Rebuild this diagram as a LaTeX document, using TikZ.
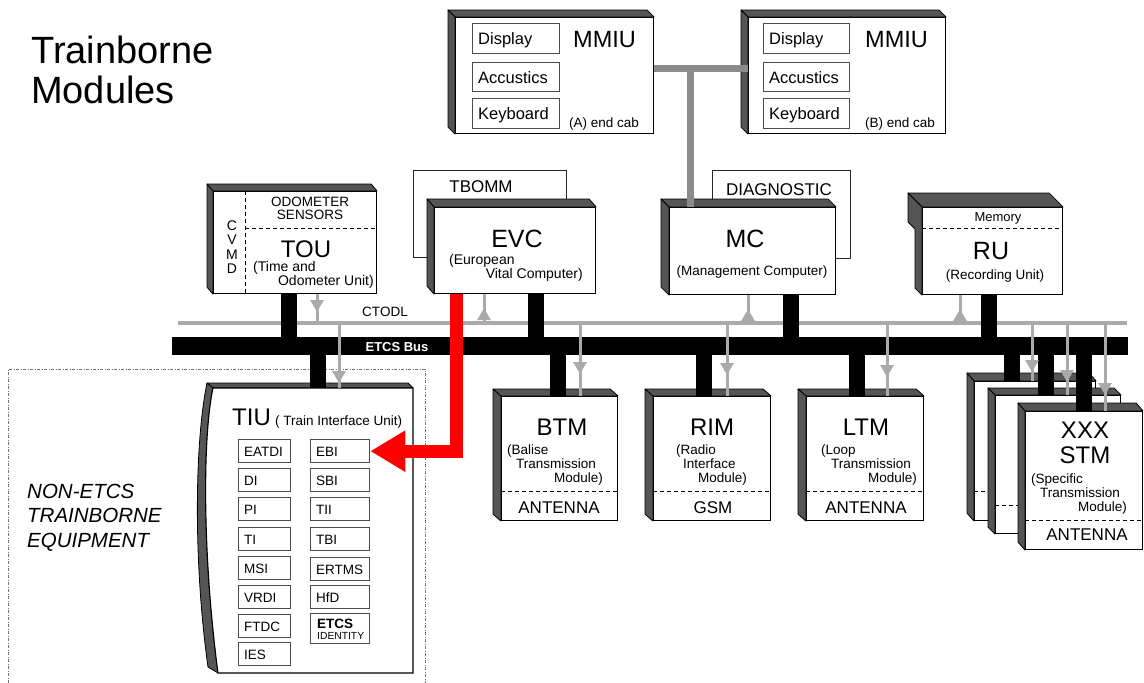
\documentclass[tikz,border=0pt]{standalone}
\usepackage{fontspec}
\setmainfont{Liberation Sans}
\usetikzlibrary{arrows.meta,calc,decorations.markings}
\definecolor{lgray}{HTML}{AAAAAA}
\definecolor{mgray}{HTML}{8C8C8C}
\definecolor{sgray}{HTML}{555555}
\definecolor{ered}{HTML}{FF0000}
\newcommand\fsz[1]{\fontsize{#1pt}{#1pt}\selectfont}
\newcommand\shad[3]{%
  \filldraw[shadthree] (#1.north west) -- ++(-#2,-#3) -- ($(#1.north east)+(-#2,-#3)$) -- (#1.north east) -- cycle;
  \filldraw[shadthree] (#1.north west) -- ++(-#2,-#3) -- ($(#1.south west)+(-#2,-#3)$) -- (#1.south west) -- cycle;}
\newcommand\ibx[7]{%
  \node[ibox, minimum width=#4pt, minimum height=#5pt] (#1) at (#2,#3) {};
  \node[inner sep=0pt, anchor=base west, font=\fsz{#7}] (#1t) at ([xshift=6pt,yshift=-0.36*#7pt]#1.west) {#6};}
\begin{document}
\begin{tikzpicture}[x=1pt,y=-1pt,
  face/.style={draw=black, fill=white, line width=1.1pt, inner sep=0pt, anchor=north west},
  shadthree/.style={draw=black, fill=sgray, line width=0.8pt, line join=round},
  plainbox/.style={draw=black!85, fill=white, line width=1pt, inner sep=0pt, anchor=north west},
  ibox/.style={draw=black!70, fill=white, line width=1.3pt, inner sep=0pt, anchor=north west},
  tx/.style={inner sep=0pt, anchor=base},
  txw/.style={inner sep=0pt, anchor=base west},
  txe/.style={inner sep=0pt, anchor=base east},
  blk/.style={line width=16pt, draw=black},
  glink/.style={line width=3pt, draw=lgray},
  garr/.style={glink, postaction={decorate}, decoration={markings, mark=at position #1 with {\arrow{Triangle[width=13pt,length=12pt,color=lgray]}}}},
  dsh/.style={line width=0.9pt, dash pattern=on 4pt off 3pt},
]
\useasboundingbox (0,0) rectangle (1144,683);

% title
\node[txw, font=\fsz{38}] (title1) at (31,63) {Trainborne};
\node[txw, font=\fsz{38}] (title2) at (31,103) {Modules};

% MMIU A
\node[face, minimum width=198pt, minimum height=116pt] (mmiuA) at (455,17) {};
\shad{mmiuA}{7}{7}
\ibx{dispA}{472}{23}{87}{30}{Display}{16.5}
\ibx{accA}{472}{62}{87}{29}{Accustics}{16.5}
\ibx{keyA}{472}{98}{87}{30}{Keyboard}{16.5}
\node[txw, font=\fsz{23.5}] (mmiuAt) at (573,47) {MMIU};
\node[txw, font=\fsz{13.5}] (cabA) at (569,127) {(A) end cab};

% MMIU B
\node[face, minimum width=197pt, minimum height=116pt] (mmiuB) at (748,17) {};
\shad{mmiuB}{7}{7}
\ibx{dispB}{763}{23}{86}{30}{Display}{16.5}
\ibx{accB}{763}{62}{86}{29}{Accustics}{16.5}
\ibx{keyB}{763}{98}{86}{30}{Keyboard}{16.5}
\node[txw, font=\fsz{23.5}] (mmiuBt) at (865,47) {MMIU};
\node[txw, font=\fsz{13.5}] (cabB) at (865,127) {(B) end cab};

% TOU
\node[face, minimum width=163pt, minimum height=102pt] (tou) at (213,191) {};
\shad{tou}{6}{7}
\coordinate (touD1) at ([xshift=32pt]tou.north west);
\draw[dsh] (touD1) -- (touD1 |- tou.south);
\coordinate (touD2) at ([xshift=32pt,yshift=-37pt]tou.north west);
\draw[dsh] (touD2) -- (touD2 -| tou.east);
\node[tx, font=\fsz{13.5}] (odo1) at (310,206) {ODOMETER};
\node[tx, font=\fsz{13.5}] (odo2) at (310,219) {SENSORS};
\node[tx, font=\fsz{14}] (cv1) at (232,230) {C};
\node[tx, font=\fsz{14}] (cv2) at (232,244.5) {V};
\node[tx, font=\fsz{14}] (cv3) at (232,259) {M};
\node[tx, font=\fsz{14}] (cv4) at (232,273.5) {D};
\node[tx, font=\fsz{24}] (touT) at (306,257) {TOU};
\node[txw, font=\fsz{14}] (touS1) at (253,271) {(Time and};
\node[txe, font=\fsz{14}] (touS2) at (374,285) {Odometer Unit)};

% TBOMM + EVC
\node[plainbox, minimum width=153pt, minimum height=87pt] (tbomm) at (413,170) {};
\node[tx, font=\fsz{17}] (tbommT) at (481,192) {TBOMM};
\node[face, minimum width=161pt, minimum height=86pt] (evc) at (434,207) {};
\shad{evc}{7}{8}
\node[tx, font=\fsz{25}] (evcT) at (517,247) {EVC};
\node[txw, font=\fsz{14}] (evcS1) at (449,264) {(European};
\node[txe, font=\fsz{14}] (evcS2) at (583,278) {Vital Computer)};

% DIAGNOSTIC + MC
\node[plainbox, minimum width=138pt, minimum height=88pt] (diag) at (712,170) {};
\node[tx, font=\fsz{17}] (diagT) at (779,195) {DIAGNOSTIC};
\node[face, minimum width=166pt, minimum height=87pt] (mc) at (669,207) {};
\shad{mc}{8}{8}
\node[tx, font=\fsz{25}] (mcT) at (745,247) {MC};
\node[tx, font=\fsz{13.5}] (mcS) at (752,275) {(Management Computer)};

% RU
\node[face, minimum width=140pt, minimum height=87pt] (ru) at (922,207) {};
\filldraw[shadthree] (ru.north west) -- ++(-14,-14) -- ($(ru.north east)+(-14,-14)$) -- (ru.north east) -- cycle;
\filldraw[shadthree] (ru.north west) -- ++(-14,-14) -- ++(0,29) -- ++(7,7) -- ($(ru.south west)+(-7,-7)$) -- (ru.south west) -- cycle;
\coordinate (ruD) at ([yshift=-21pt]ru.north west);
\draw[dsh] (ruD) -- (ruD -| ru.east);
\node[tx, font=\fsz{13}] (memT) at (998,221) {Memory};
\node[tx, font=\fsz{25}] (ruT) at (991,259) {RU};
\node[tx, font=\fsz{13.5}] (ruS) at (995,279) {(Recording Unit)};

% MMIU link
\coordinate (mj) at (690,68);
\draw[mgray, line width=7pt] (mmiuA.east |- mj) -- (mmiuB.west |- mj);
\draw[mgray, line width=7pt] (mj) -- (mj |- mc.north);

% CTODL
\coordinate (ctL) at (178,323);
\coordinate (ctR) at (1127,323);
\draw[glink, line width=4pt] (ctL) -- (ctR);
\node[tx, font=\fsz{13.5}] (ctT) at (385,316) {CTODL};

% gray arrows between upper boxes and CTODL
\coordinate (touG) at ([xshift=104pt]tou.south west);
\draw[garr=-11pt] (touG) -- (touG |- ctL);
\coordinate (evcG) at ([xshift=50pt]evc.south west);
\draw[garr=-14pt] (evcG |- ctL) -- (evcG);
\coordinate (mcG) at ([xshift=79pt]mc.south west);
\draw[garr=-14pt] (mcG |- ctL) -- (mcG);
\coordinate (ruG) at ([xshift=38pt]ru.south west);
\draw[garr=-14pt] (ruG |- ctL) -- (ruG);

% non-ETCS frame
\draw[black!55, line width=1pt, dash pattern=on 3pt off 1.5pt on 1pt off 1.5pt] (8,690) -- (8,369) -- (425,369) -- (425,690);
\node[txw, font=\fsz{20.5}\itshape] (non1) at (27,498) {NON-ETCS};
\node[txw, font=\fsz{20.5}\itshape] (non2) at (27,522.5) {TRAINBORNE};
\node[txw, font=\fsz{20.5}\itshape] (non3) at (27,547) {EQUIPMENT};

% TIU
\node[inner sep=0pt, minimum width=200pt, minimum height=285pt, anchor=north west] (tiu) at (213,388) {};
\filldraw[shadthree] (207,383) -- (408,383) -- (413,388) -- (213,388) -- cycle;
\filldraw[shadthree] (207,383) .. controls (195,440) and (193,560) .. (208,667) -- (218,673) .. controls (203,560) and (202,440) .. (213,388) -- cycle;
\filldraw[draw=black, fill=white, line width=1.1pt] (213,388) -- (413,388) -- (413,673) -- (218,673) .. controls (203,560) and (202,440) .. (213,388) -- cycle;
\node[txw, font=\fsz{24}] (tiuT) at (232,425) {TIU};
\node[txw, font=\fsz{13.5}] (tiuS) at (275,425) {( Train Interface Unit)};
\ibx{eatdi}{238}{439}{52}{23}{EATDI}{13.5}
\ibx{di}{238}{468}{52}{23}{DI}{13.5}
\ibx{pi}{238}{497}{52}{23}{PI}{13.5}
\ibx{ti}{238}{527}{52}{23}{TI}{13.5}
\ibx{msi}{238}{556}{52}{23}{MSI}{13.5}
\ibx{vrdi}{238}{585}{52}{23}{VRDI}{13.5}
\ibx{ftdc}{238}{614}{52}{23}{FTDC}{13.5}
\ibx{ies}{238}{642}{52}{23}{IES}{13.5}
\ibx{ebi}{310}{439}{59}{23}{EBI}{13.5}
\ibx{sbi}{310}{468}{59}{23}{SBI}{13.5}
\ibx{tii}{310}{497}{59}{23}{TII}{13.5}
\ibx{tbi}{310}{527}{59}{23}{TBI}{13.5}
\ibx{ertms}{310}{557}{59}{23}{ERTMS}{13.5}
\ibx{hfd}{310}{585}{59}{23}{HfD}{13.5}
\node[ibox, minimum width=59pt, minimum height=30pt] (etcsid) at (310,613) {};
\node[txw, font=\fsz{13.5}\bfseries] (etcsidA) at (317,628) {ETCS};
\node[txw, font=\fsz{10.3}] (etcsidB) at (317,639) {IDENTITY};

% BTM
\node[face, minimum width=116pt, minimum height=124pt] (btm) at (501,396) {};
\shad{btm}{8}{7}
\coordinate (btmD) at ([yshift=-95pt]btm.north west);
\draw[dsh] (btmD) -- (btmD -| btm.east);
\node[tx, font=\fsz{24}] (btmT) at (562,435) {BTM};
\node[txw, font=\fsz{13.5}] (btmS1) at (507,454) {(Balise};
\node[txw, font=\fsz{13.5}] (btmS2) at (516,468) {Transmission};
\node[txe, font=\fsz{13.5}] (btmS3) at (603,482) {Module)};
\node[tx, font=\fsz{17}] (btmA) at (559,513) {ANTENNA};

% RIM
\node[face, minimum width=117pt, minimum height=124pt] (rim) at (653,396) {};
\shad{rim}{8}{7}
\coordinate (rimD) at ([yshift=-95pt]rim.north west);
\draw[dsh] (rimD) -- (rimD -| rim.east);
\node[tx, font=\fsz{24}] (rimT) at (712,435) {RIM};
\node[txw, font=\fsz{13.5}] (rimS1) at (676,454) {(Radio};
\node[txw, font=\fsz{13.5}] (rimS2) at (683,468) {Interface};
\node[txe, font=\fsz{13.5}] (rimS3) at (747,482) {Module)};
\node[tx, font=\fsz{17}] (rimA) at (713,513) {GSM};

% LTM
\node[face, minimum width=117pt, minimum height=124pt] (ltm) at (806,396) {};
\shad{ltm}{8}{7}
\coordinate (ltmD) at ([yshift=-95pt]ltm.north west);
\draw[dsh] (ltmD) -- (ltmD -| ltm.east);
\node[tx, font=\fsz{24}] (ltmT) at (866,435) {LTM};
\node[txw, font=\fsz{13.5}] (ltmS1) at (821,454) {(Loop};
\node[txw, font=\fsz{13.5}] (ltmS2) at (831,468) {Transmission};
\node[txe, font=\fsz{13.5}] (ltmS3) at (917,482) {Module)};
\node[tx, font=\fsz{17}] (ltmA) at (866,513) {ANTENNA};

% STM stack
\node[face, minimum width=121pt, minimum height=139pt] (stmA) at (974,381) {};
\shad{stmA}{7}{8}
\coordinate (stmAD) at ([yshift=-110pt]stmA.north west);
\draw[dsh] (stmAD) -- (stmAD -| stmA.east);
\node[face, minimum width=125pt, minimum height=138pt] (stmB) at (995,395) {};
\shad{stmB}{7}{7}
\coordinate (stmBD) at ([yshift=-110pt]stmB.north west);
\draw[dsh] (stmBD) -- (stmBD -| stmB.east);
\node[face, minimum width=117pt, minimum height=138pt] (stmC) at (1025,411) {};
\shad{stmC}{7}{8}
\coordinate (stmCD) at ([yshift=-109pt]stmC.north west);
\draw[dsh] (stmCD) -- (stmCD -| stmC.east);
\node[tx, font=\fsz{24}] (stmT1) at (1085,438) {XXX};
\node[tx, font=\fsz{24}] (stmT2) at (1085,463) {STM};
\node[txw, font=\fsz{13.5}] (stmS1) at (1031,483) {(Specific};
\node[txw, font=\fsz{13.5}] (stmS2) at (1040,497) {Transmission};
\node[txe, font=\fsz{13.5}] (stmS3) at (1127,511) {Module)};
\node[tx, font=\fsz{17}] (stmAnt) at (1087,540) {ANTENNA};

% ETCS bus
\node[fill=black, minimum width=956pt, minimum height=18pt, inner sep=0pt, anchor=north west] (bus) at (172,337) {};
\node[tx, font=\fsz{13}\bfseries, text=white] (busT) at (397,351) {ETCS Bus};

% black connectors, upper boxes
\coordinate (touK) at ([xshift=76pt]tou.south west);
\draw[blk] (touK) -- (touK |- bus.center);
\coordinate (evcK) at ([xshift=102pt]evc.south west);
\draw[blk] (evcK) -- (evcK |- bus.center);
\coordinate (mcK) at ([xshift=122pt]mc.south west);
\draw[blk] (mcK) -- (mcK |- bus.center);
\coordinate (ruK) at ([xshift=67pt]ru.south west);
\draw[blk] (ruK) -- (ruK |- bus.center);

% black connectors, lower boxes
\coordinate (tiuK) at ([xshift=105pt]tiu.north west);
\draw[blk] (tiuK |- bus.center) -- (tiuK);
\coordinate (btmK) at ([xshift=57pt]btm.north west);
\draw[blk] (btmK |- bus.center) -- (btmK);
\coordinate (rimK) at ([xshift=51pt]rim.north west);
\draw[blk] (rimK |- bus.center) -- (rimK);
\coordinate (ltmK) at ([xshift=51pt]ltm.north west);
\draw[blk] (ltmK |- bus.center) -- (ltmK);
\coordinate (stmAK) at ([xshift=38pt]stmA.north west);
\draw[blk] (stmAK |- bus.center) -- (stmAK);
\coordinate (stmBK) at ([xshift=51pt]stmB.north west);
\draw[blk] (stmBK |- bus.center) -- (stmBK);
\coordinate (stmCK) at ([xshift=59pt]stmC.north west);
\draw[blk] (stmCK |- bus.center) -- (stmCK);

% gray CTODL drops to lower boxes
\coordinate (tiuG) at ([xshift=126pt]tiu.north west);
\draw[garr=-5pt] (tiuG |- ctL) -- (tiuG);
\coordinate (btmG) at ([xshift=79pt]btm.north west);
\draw[garr=-22pt] (btmG |- ctL) -- (btmG);
\coordinate (rimG) at ([xshift=74pt]rim.north west);
\draw[garr=-21pt] (rimG |- ctL) -- (rimG);
\coordinate (ltmG) at ([xshift=81pt]ltm.north west);
\draw[garr=-19pt] (ltmG |- ctL) -- (ltmG);
\coordinate (stmAG) at ([xshift=58pt]stmA.north west);
\draw[garr=-9pt] (stmAG |- ctL) -- (stmAG);
\coordinate (stmBG) at ([xshift=72pt]stmB.north west);
\draw[garr=-13pt] (stmBG |- ctL) -- (stmBG);
\coordinate (stmCG) at ([xshift=80pt]stmC.north west);
\draw[garr=-16pt] (stmCG |- ctL) -- (stmCG);

% red EVC -> EBI
\coordinate (evcR) at ([xshift=22pt]evc.south west);
\draw[ered, line width=13pt, line join=miter, -{Triangle[width=39pt,length=35pt]}] (evcR) -- (evcR |- ebi.east) -- (ebi.east);
\end{tikzpicture}
\end{document}
